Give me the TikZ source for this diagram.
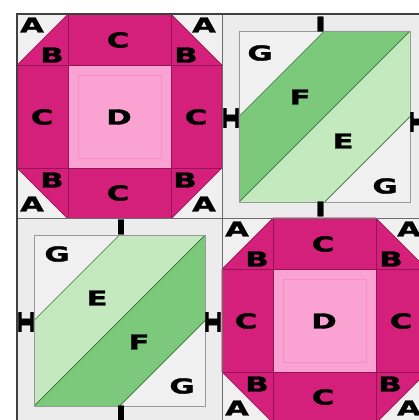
\documentclass[tikz,border=0pt]{standalone}
\usepackage{fontspec}
\newfontfamily\labfont{DejaVu Sans}[FakeStretch=1.5,FakeBold=1.5]
\newfontfamily\ifont{DejaVu Sans Mono}[FakeStretch=2.2,FakeBold=3]
\definecolor{pinkd}{RGB}{212,32,122}
\definecolor{pinkl}{RGB}{250,162,210}
\definecolor{pinkseam}{RGB}{150,20,85}
\definecolor{greend}{RGB}{124,201,124}
\definecolor{greenl}{RGB}{196,233,191}
\definecolor{agray}{RGB}{240,240,240}
\definecolor{sashc}{RGB}{236,236,236}
\tikzset{
  lab/.style={font=\labfont\bfseries\fontsize{20.5}{20.5}\selectfont, inner sep=0pt, text=black},
  vlab/.style={font=\labfont\bfseries\fontsize{20}{20}\selectfont, inner sep=0pt, text=black},
  hlab/.style={font=\ifont\bfseries\fontsize{20}{20}\selectfont, inner sep=0pt, text=black, rotate=90},
  seam/.style={draw=pinkseam, line width=0.7pt},
  pinkfaint/.style={draw=pinkl!85!pinkd, line width=0.5pt},
  gseam/.style={draw=black!60!green!60!gray, line width=0.7pt},
  sashline/.style={draw=gray!80, line width=0.8pt},
  cellline/.style={draw=gray!85!black, line width=0.8pt},
  frameline/.style={draw=black!75, line width=1.4pt}
}
\newcommand\pinkblk[1]{%
\begin{scope}[shift={#1}]
  \fill[agray] (0,0) rectangle (205,205);
  \fill[pinkd] (0,51)--(51,0)--(154,0)--(205,51)--(205,154)--(154,205)--(51,205)--(0,154)--cycle;
  \fill[pinkl] (51,51) rectangle (154,154);
  \draw[pinkfaint] (61,61) rectangle (144,144);
  \draw[seam] (51,0)--(51,205) (154,0)--(154,205) (0,51)--(205,51) (0,154)--(205,154);
  \draw[seam] (0,51)--(51,0)--(154,0)--(205,51)--(205,154)--(154,205)--(51,205)--(0,154)--cycle;
  \draw[cellline] (0,0) rectangle (205,205);
\end{scope}}
\newcommand\greenblk[3]{%
\begin{scope}[shift={#1}]
  \fill[sashc] (0,0) rectangle (205,205);
  \fill[agray] (17,17) rectangle (188,188);
  \fill[#2] (17,102.5)--(102.5,17)--(188,17)--(17,188)--cycle;
  \fill[#3] (17,188)--(188,17)--(188,102.5)--(102.5,188)--cycle;
  \draw[gseam] (17,102.5)--(102.5,17) (17,188)--(188,17) (102.5,188)--(188,102.5);
  \draw[sashline] (17,17) rectangle (188,188);
  \draw[cellline] (0,0) rectangle (205,205);
\end{scope}}
\begin{document}
\begin{tikzpicture}[x=1pt,y=-1pt]
\useasboundingbox (0,0) rectangle (419,420);
\fill[white] (0,0) rectangle (419,420);
\clip (0,0) rectangle (419,420);
\pinkblk{(17,14)}
\greenblk{(222,14)}{greend}{greenl}
\greenblk{(17,218)}{greenl}{greend}
\pinkblk{(222,218)}
\draw[frameline] (17,420)--(17,14)--(419,14);
% top-left pink block labels
\node[lab] (a1) at (32,25) {A};
\node[lab] (b1) at (52,55) {B};
\node[lab] (c1) at (118,40) {C};
\node[lab] (a2) at (204,25) {A};
\node[lab] (b2) at (186,55) {B};
\node[lab] (c2) at (42,117) {C};
\node[lab] (d1) at (119,117) {D};
\node[lab] (c3) at (196,117) {C};
\node[lab] (b3) at (52,180) {B};
\node[lab] (a3) at (32,204) {A};
\node[lab] (c4) at (118,193) {C};
\node[lab] (b4) at (185,180) {B};
\node[lab] (a4) at (204,204) {A};
% bottom-right pink block labels
\node[lab] (a5) at (237,229) {A};
\node[lab] (b5) at (257,259) {B};
\node[lab] (c5) at (323,244) {C};
\node[lab] (a6) at (409,229) {A};
\node[lab] (b6) at (391,259) {B};
\node[lab] (c6) at (246,321) {C};
\node[lab] (d2) at (324,321) {D};
\node[lab] (c7) at (401,321) {C};
\node[lab] (b7) at (257,384) {B};
\node[lab] (a7) at (237,408) {A};
\node[lab] (c8) at (323,397) {C};
\node[lab] (b8) at (390,384) {B};
\node[lab] (a8) at (409,408) {A};
% top-right green block labels
\node[lab] (g1) at (260,53) {G};
\node[lab] (f1) at (300,97) {F};
\node[lab] (e1) at (343,141) {E};
\node[lab] (g2) at (385,186) {G};
\node[vlab] (i1) at (320.5,24) {I};
\node[vlab] (i2) at (320.5,209) {I};
\node[hlab] (i3) at (231,118) {I};
\node[hlab] (i4) at (418,122) {I};
% bottom-left green block labels
\node[lab] (g3) at (57,254) {G};
\node[lab] (e2) at (97,298) {E};
\node[lab] (f2) at (139,342) {F};
\node[lab] (g4) at (182,386) {G};
\node[vlab] (i5) at (121,227) {I};
\node[vlab] (i6) at (121,413) {I};
\node[hlab] (i7) at (26,322) {I};
\node[hlab] (i8) at (213,322) {I};
\end{tikzpicture}
\end{document}
